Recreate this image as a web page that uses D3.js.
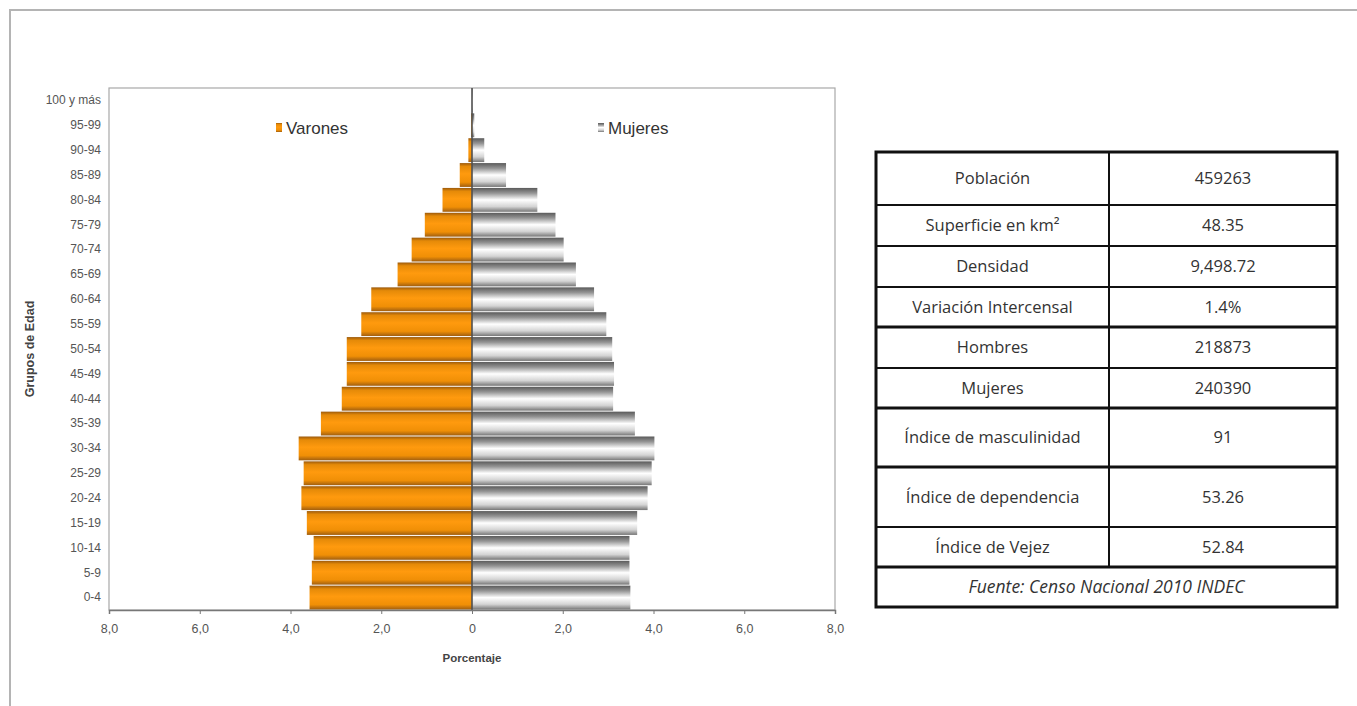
<!DOCTYPE html>
<html>
<head>
<meta charset="utf-8">
<script src="https://cdn.jsdelivr.net/npm/d3@7"></script>
<style>
  html, body { margin: 0; padding: 0; background: #fff; }
  svg { display: block; }
</style>
</head>
<body>
<svg id="chart" width="1357" height="706"></svg>
<script>
// Grupos de edad, de menor a mayor
const ages = ["0-4","5-9","10-14","15-19","20-24","25-29","30-34","35-39","40-44","45-49",
  "50-54","55-59","60-64","65-69","70-74","75-79","80-84","85-89","90-94","95-99","100 y más"];

// Porcentaje de la población total por grupo
const varones = [3.58,3.53,3.49,3.64,3.76,3.71,3.82,3.33,2.87,2.76,
  2.76,2.44,2.22,1.64,1.33,1.04,0.65,0.27,0.08,0.02,0.0];
const mujeres = [3.49,3.47,3.47,3.64,3.87,3.96,4.02,3.59,3.11,3.13,
  3.09,2.96,2.69,2.29,2.02,1.84,1.44,0.75,0.27,0.05,0.01];

const xTicks = [-8,-6,-4,-2,0,2,4,6,8];

// Ficha resumen
const tableLabels = ["Población","Superficie en km²","Densidad","Variación Intercensal","Hombres",
  "Mujeres","Índice de masculinidad","Índice de dependencia","Índice de Vejez"];
const tableValues = ["459263","48.35","9,498.72","1.4%","218873","240390","91","53.26","52.84"];
const tableSource = "Fuente: Censo Nacional 2010 INDEC";

const svg = d3.select("#chart");

// marco de la página
svg.append("path")
  .attr("d", "M10,706 L10,10 L1357,10")
  .attr("fill", "none").attr("stroke", "#b4b4b4").attr("stroke-width", 2);

// gradientes de las barras
const defs = svg.append("defs");
const gV = defs.append("linearGradient").attr("id", "gradV")
  .attr("x1", 0).attr("y1", 0).attr("x2", 0).attr("y2", 1);
[["0%","#9c5a0c"],["14%","#e58a08"],["45%","#ff9a0e"],["80%","#f08f06"],["100%","#a05e10"]]
  .forEach(([o,c]) => gV.append("stop").attr("offset", o).attr("stop-color", c));
const gM = defs.append("linearGradient").attr("id", "gradM")
  .attr("x1", 0).attr("y1", 0).attr("x2", 0).attr("y2", 1);
[["0%","#5a5a5a"],["22%","#959595"],["50%","#ffffff"],["78%","#d4d4d4"],["100%","#767676"]]
  .forEach(([o,c]) => gM.append("stop").attr("offset", o).attr("stop-color", c));

// área de la pirámide
const pL = 109, pR = 835, pT = 88, pB = 610;
const x = d3.scaleLinear().domain([-8, 8]).range([pL, pR]);
const y = d3.scaleBand().domain(ages.slice().reverse()).range([pT, pB]).padding(0);

const plot = svg.append("g");
plot.append("rect")
  .attr("x", pL).attr("y", pT).attr("width", pR - pL).attr("height", pB - pT)
  .attr("fill", "none").attr("stroke", "#a8a8a8").attr("stroke-width", 1.2);

const bh = y.bandwidth();
plot.selectAll("rect.var").data(ages).join("rect").attr("class", "var")
  .attr("x", (d, i) => x(-varones[i]))
  .attr("y", d => y(d) + 0.5)
  .attr("width", (d, i) => x(0) - x(-varones[i]))
  .attr("height", bh - 1)
  .attr("fill", "url(#gradV)");

plot.selectAll("rect.muj").data(ages).join("rect").attr("class", "muj")
  .attr("x", x(0))
  .attr("y", d => y(d) + 0.5)
  .attr("width", (d, i) => x(mujeres[i]) - x(0))
  .attr("height", bh - 1)
  .attr("fill", "url(#gradM)");

// eje central
plot.append("line")
  .attr("x1", x(0)).attr("x2", x(0)).attr("y1", pT).attr("y2", pB)
  .attr("stroke", "#505050").attr("stroke-width", 1.6);

const arial = "Arial, 'Liberation Sans', sans-serif";

// eje X
const xAxis = d3.axisBottom(x).tickValues(xTicks).tickSize(4).tickPadding(10)
  .tickFormat(d => d === 0 ? "0" : Math.abs(d).toFixed(1).replace(".", ","));
const gx = svg.append("g").attr("transform", `translate(0,${pB})`).call(xAxis);
gx.select(".domain").attr("stroke", "#777").attr("stroke-width", 1.5);
gx.selectAll(".tick line").attr("stroke", "#777");
gx.selectAll(".tick text").attr("fill", "#555").attr("font-family", arial).attr("font-size", 12.5);

// eje Y
const yAxis = d3.axisLeft(y).tickSize(0).tickPadding(8);
const gy = svg.append("g").attr("transform", `translate(${pL},0)`).call(yAxis);
gy.select(".domain").remove();
gy.selectAll(".tick text").attr("fill", "#555").attr("font-family", arial).attr("font-size", 12);

// títulos de ejes
svg.append("text").attr("x", x(0)).attr("y", 662).attr("text-anchor", "middle")
  .attr("font-family", arial).attr("font-size", 11.5)
  .attr("font-weight", "bold").attr("fill", "#444").text("Porcentaje");
svg.append("text").attr("transform", `translate(34,${(pT + pB) / 2}) rotate(-90)`)
  .attr("text-anchor", "middle")
  .attr("font-family", arial).attr("font-size", 12.5)
  .attr("font-weight", "bold").attr("fill", "#444").text("Grupos de Edad");

// leyenda
const legend = [
  { name: "Varones", fill: "url(#gradV)", x: 276 },
  { name: "Mujeres", fill: "url(#gradM)", x: 598 }
];
const lg = svg.selectAll("g.leg").data(legend).join("g").attr("class", "leg")
  .attr("transform", d => `translate(${d.x},123)`);
lg.append("rect").attr("width", 6).attr("height", 9).attr("fill", d => d.fill);
lg.append("text").attr("x", 10).attr("y", 11)
  .attr("font-family", arial).attr("font-size", 17)
  .attr("fill", "#333").text(d => d.name);

// tabla resumen
const tL = 876, tR = 1337, tMid = 1109;
const rowEdges = [152, 205, 246, 287, 327, 368, 408, 467, 527, 567, 607];
const thick = new Set([327, 408, 467, 567]);
const tbl = svg.append("g");
const font = "'Open Sans', 'Noto Sans', sans-serif";

tableLabels.forEach((lab, i) => {
  const cy = (rowEdges[i] + rowEdges[i + 1]) / 2;
  tbl.append("text").attr("x", (tL + tMid) / 2).attr("y", cy).attr("dy", "0.35em")
    .attr("text-anchor", "middle").attr("font-family", font).attr("font-size", 16.5)
    .attr("fill", "#333").text(lab);
  tbl.append("text").attr("x", (tMid + tR) / 2).attr("y", cy).attr("dy", "0.35em")
    .attr("text-anchor", "middle").attr("font-family", font).attr("font-size", 16.5)
    .attr("fill", "#333").text(tableValues[i]);
});
tbl.append("text").attr("x", (tL + tR) / 2)
  .attr("y", (rowEdges[9] + rowEdges[10]) / 2).attr("dy", "0.35em")
  .attr("text-anchor", "middle").attr("font-family", font).attr("font-size", 17.5)
  .attr("font-style", "italic").attr("fill", "#333").text(tableSource);

rowEdges.slice(1, -1).forEach(yy => {
  tbl.append("line").attr("x1", tL).attr("x2", tR).attr("y1", yy).attr("y2", yy)
    .attr("stroke", "#111").attr("stroke-width", thick.has(yy) ? 3 : 2);
});
tbl.append("line").attr("x1", tMid).attr("x2", tMid).attr("y1", rowEdges[0]).attr("y2", rowEdges[9])
  .attr("stroke", "#111").attr("stroke-width", 2);
tbl.append("rect").attr("x", tL).attr("y", rowEdges[0])
  .attr("width", tR - tL).attr("height", rowEdges[10] - rowEdges[0])
  .attr("fill", "none").attr("stroke", "#111").attr("stroke-width", 3);
</script>
</body>
</html>
